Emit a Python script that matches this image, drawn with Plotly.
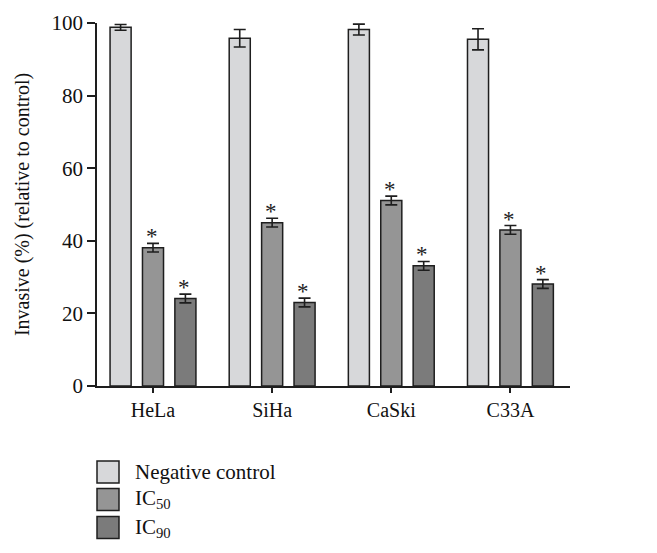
import plotly.graph_objects as go

cell_lines = ["HeLa", "SiHa", "CaSki", "C33A"]
series_names = ["Negative control", "IC<sub>50</sub>", "IC<sub>90</sub>"]
neg_control = [98.8, 95.8, 98.2, 95.5]
neg_control_err = [0.8, 2.4, 1.5, 2.9]
ic50 = [38.1, 45.0, 51.1, 43.0]
ic50_err = [1.2, 1.2, 1.2, 1.2]
ic90 = [24.1, 23.0, 33.1, 28.1]
ic90_err = [1.2, 1.2, 1.2, 1.2]
significant = [[False] * 4, [True] * 4, [True] * 4]
y_ticks = [0, 20, 40, 60, 80, 100]

colors = ["#d7d8da", "#959595", "#7b7b7b"]
FONT = "Liberation Serif"
OFF = 8  # page body margin
W, H = 657 - OFF, 553 - OFF
# plot area in page pixels: x 97..570, y 23..386
L = 97 - OFF
T = 23 - OFF
R = (OFF + W) - 570
B = (OFF + H) - 386

fig = go.Figure()
vals = [neg_control, ic50, ic90]
errs = [neg_control_err, ic50_err, ic90_err]
for name, v, e, c in zip(series_names, vals, errs, colors):
    fig.add_trace(go.Bar(
        x=cell_lines, y=v, name=name,
        marker=dict(color=c, line=dict(color="#1e1e1e", width=1.5)),
        error_y=dict(type="data", array=e, visible=True, color="#1e1e1e",
                     thickness=1.6, width=6),
        showlegend=False,
    ))

# asterisks above significant bars
offsets = [-0.272, 0.0, 0.272]
for si, (v, e) in enumerate(zip(vals, errs)):
    for ci in range(len(cell_lines)):
        if significant[si][ci]:
            fig.add_annotation(
                x=ci + offsets[si] - 0.012, y=v[ci] + e[ci], xref="x", yref="y",
                text="*", showarrow=False, yanchor="bottom", yshift=-8,
                font=dict(family=FONT, size=23, color="#222222"),
            )

# legend drawn as boxes + labels (pixel positions in page coordinates)
pw, ph = W - L - R, H - T - B
def px2x(px):
    return (px - OFF - L) / pw
def py2y(py):
    return (H - B - (py - OFF)) / ph
box_tops = [461, 488.5, 516.5]
for i, (name, c) in enumerate(zip(series_names, colors)):
    top = box_tops[i]
    fig.add_shape(type="rect", xref="paper", yref="paper",
                  x0=px2x(97), x1=px2x(119), y0=py2y(top + 22), y1=py2y(top),
                  fillcolor=c, line=dict(color="#1e1e1e", width=1.5))
    fig.add_annotation(xref="paper", yref="paper", x=px2x(133), y=py2y(top + 11),
                       text=name, showarrow=False, xanchor="left", yanchor="middle",
                       font=dict(family=FONT, size=21, color="#111"))

fig.update_layout(
    width=W, height=H,
    margin=dict(l=L, r=R, t=T, b=B, autoexpand=False),
    paper_bgcolor="white", plot_bgcolor="white",
    barmode="group", bargap=0.184, bargroupgap=0.35,
    font=dict(family=FONT, size=17, color="#111"),
    xaxis=dict(range=[-0.47, 3.5], showline=True, linecolor="#1e1e1e", linewidth=1.5,
               ticks="outside", ticklen=5, tickcolor="#1e1e1e", tickwidth=1.5,
               showgrid=False, zeroline=False, tickfont=dict(size=20), automargin=False),
    yaxis=dict(range=[0, 100], tickvals=y_ticks, showline=True, linecolor="#1e1e1e",
               linewidth=1.5, ticks="outside", ticklen=8, tickcolor="#1e1e1e",
               tickwidth=1.5, showgrid=False, zeroline=False, tickfont=dict(size=21),
               automargin=False,
               title=dict(text="Invasive (%) (relative to control)", font=dict(size=20),
                          standoff=17)),
)

fig.write_html("out.html")
